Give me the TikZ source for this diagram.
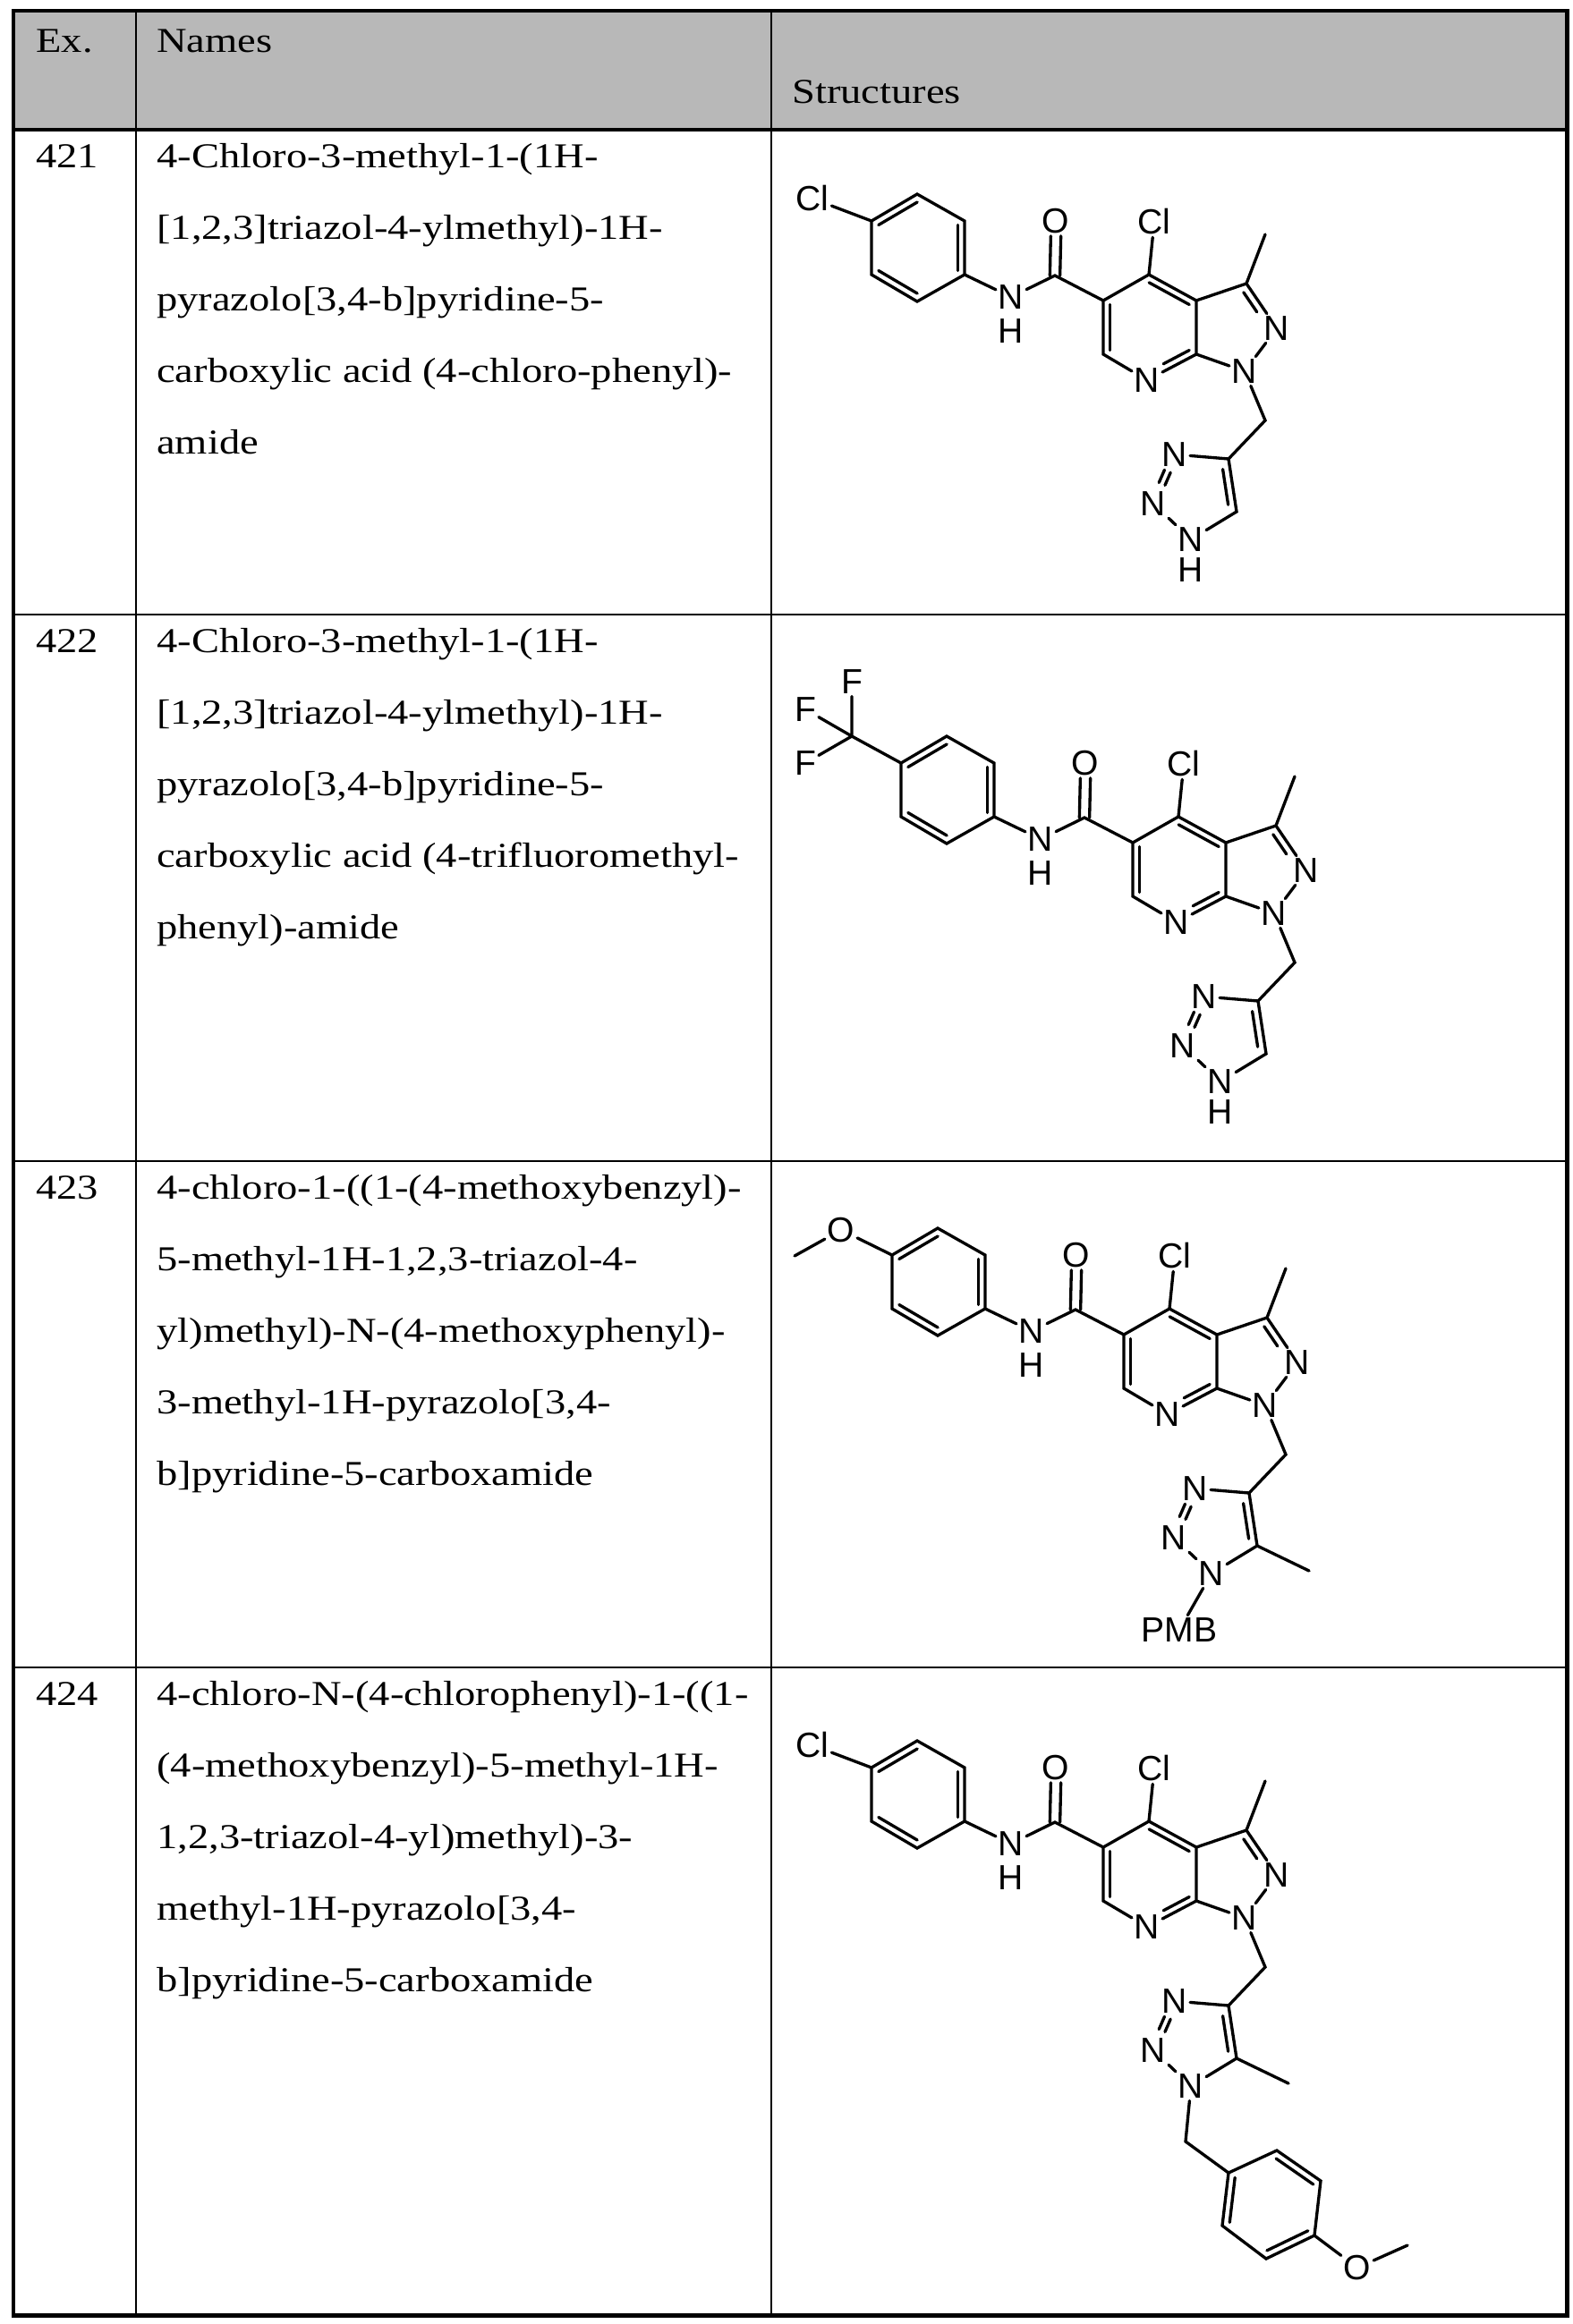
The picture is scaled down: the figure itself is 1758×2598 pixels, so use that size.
\documentclass[tikz,border=0pt]{standalone}
\usepackage{fontspec}
\setmainfont{Liberation Serif}
\newfontfamily\chemfont{Liberation Sans}
\usetikzlibrary{calc}
\newcommand\sx[1]{\scalebox{1.19}[1]{#1}}
\tikzset{
  bond/.style={line width=2pt,line cap=round},
  atom/.style={inner sep=1.6pt,font=\chemfont\fontsize{23.5}{26}\selectfont},
  txt/.style={anchor=base west,inner sep=0pt,font=\fontsize{23.5}{28}\selectfont},
  rule/.style={line width=1.5pt},
}
\newcommand\inr[6]{\draw[bond] ($($(#1)!#4!(#2)$)!#6!(#3)$) -- ($($(#1)!#5!(#2)$)!#6!(#3)$);}
\newcommand\dbl[5]{\draw[bond] ($($(#1)!#4!(#2)$)!#3!90:(#2)$) -- ($($(#1)!#5!(#2)$)!#3!90:(#2)$);
  \draw[bond] ($($(#1)!#4!(#2)$)!#3!-90:(#2)$) -- ($($(#1)!#5!(#2)$)!#3!-90:(#2)$);}
\newcommand\core{%
  \coordinate (A1) at (974,247); \coordinate (A2) at (1025,217); \coordinate (A3) at (1078,247);
  \coordinate (A4) at (1078,307); \coordinate (A5) at (1025,337); \coordinate (A6) at (974,307);
  \coordinate (Ac) at (1026,277);
  \node[atom] (NA) at (1130,332) {N}; \node[atom] (HA) at (1130,370) {H};
  \coordinate (Cc) at (1179,308); \node[atom] (OC) at (1180,247) {O};
  \coordinate (C5) at (1233,336); \coordinate (C4) at (1284,307); \node[atom] (ClC) at (1290,248) {Cl};
  \coordinate (C3a) at (1337,336); \coordinate (C7a) at (1337,396); \node[atom] (N7) at (1282,425) {N};
  \coordinate (C6) at (1233,396); \coordinate (Pc) at (1285,366);
  \coordinate (C3) at (1393,317); \coordinate (Me) at (1414,262);
  \node[atom] (N2) at (1427,367) {N}; \node[atom] (N1) at (1391,415) {N}; \coordinate (Qc) at (1377,366);
  \coordinate (CH) at (1414,470); \coordinate (T4) at (1373,513);
  \node[atom] (T3) at (1313,508) {N}; \node[atom] (T2) at (1289,563) {N}; \node[atom] (T1) at (1331,603) {N};
  \coordinate (T5) at (1382,572); \coordinate (Tc) at (1338,552);
  \draw[bond] (A1)--(A2)--(A3)--(A4)--(A5)--(A6)--cycle;
  \inr{A1}{A2}{Ac}{0}{1}{0.15} \inr{A3}{A4}{Ac}{0}{1}{0.15} \inr{A5}{A6}{Ac}{0}{1}{0.15}
  \draw[bond] (A4)--(NA)--(Cc)--(C5);
  \draw[bond] ([xshift=-3.4pt]Cc)--([xshift=-3.4pt]OC.south);
  \draw[bond] ([xshift=3.4pt]Cc)--([xshift=3.4pt]OC.south);
  \draw[bond] (C4)--(ClC);
  \draw[bond] (C5)--(C4)--(C3a)--(C7a)--(N7)--(C6)--(C5);
  \inr{C4}{C3a}{Pc}{0}{1}{0.15} \inr{C5}{C6}{Pc}{0}{1}{0.15} \inr{C7a}{N7}{Pc}{0}{0.62}{0.15}
  \draw[bond] (C3a)--(C3)--(N2)--(N1)--(C7a);
  \draw[bond] (C3)--(Me);
  \inr{C3}{N2}{Qc}{0}{0.55}{0.2}
  \draw[bond] (N1)--(CH)--(T4)--(T3);
  \dbl{T3}{T2}{2.2pt}{0.34}{0.6}
  \draw[bond] (T2)--(T1)--(T5)--(T4);
  \inr{T4}{T5}{Tc}{0.08}{0.92}{0.2}
}
\begin{document}
\begin{tikzpicture}[x=0.6013pt,y=-0.6013pt]
\useasboundingbox (0,0) rectangle (1758,2598);
% table
\fill[black!28] (15,12) rectangle (1751,145);
\draw[rule] (152,12)--(152,2588) (862,12)--(862,2588);
\draw[rule] (15,687)--(1751,687) (15,1298)--(1751,1298) (15,1864)--(1751,1864);
\draw[line width=2.6pt] (15,145)--(1751,145);
\draw[line width=3pt] (15,12) rectangle (1751,2588);
\node[txt] (hEx) at (40,58) {\sx{Ex.}};
\node[txt] (hNm) at (175,58) {\sx{Names}};
\node[txt] (hSt) at (885,115) {\sx{Structures}};
% row 421
\node[txt] (e1) at (40,187) {\sx{421}};
\node[txt] (a1) at (175,187) {\sx{4-Chloro-3-methyl-1-(1H-}};
\node[txt] (a2) at (175,267) {\sx{[1,2,3]triazol-4-ylmethyl)-1H-}};
\node[txt] (a3) at (175,347) {\sx{pyrazolo[3,4-b]pyridine-5-}};
\node[txt] (a4) at (175,427) {\sx{carboxylic acid (4-chloro-phenyl)-}};
\node[txt] (a5) at (175,507) {\sx{amide}};
% row 422
\node[txt] (e2) at (40,729) {\sx{422}};
\node[txt] (b1) at (175,729) {\sx{4-Chloro-3-methyl-1-(1H-}};
\node[txt] (b2) at (175,809) {\sx{[1,2,3]triazol-4-ylmethyl)-1H-}};
\node[txt] (b3) at (175,889) {\sx{pyrazolo[3,4-b]pyridine-5-}};
\node[txt] (b4) at (175,969) {\sx{carboxylic acid (4-trifluoromethyl-}};
\node[txt] (b5) at (175,1049) {\sx{phenyl)-amide}};
% row 423
\node[txt] (e3) at (40,1340) {\sx{423}};
\node[txt] (c1) at (175,1340) {\sx{4-chloro-1-((1-(4-methoxybenzyl)-}};
\node[txt] (c2) at (175,1420) {\sx{5-methyl-1H-1,2,3-triazol-4-}};
\node[txt] (c3) at (175,1500) {\sx{yl)methyl)-N-(4-methoxyphenyl)-}};
\node[txt] (c4) at (175,1580) {\sx{3-methyl-1H-pyrazolo[3,4-}};
\node[txt] (c5) at (175,1660) {\sx{b]pyridine-5-carboxamide}};
% row 424
\node[txt] (e4) at (40,1906) {\sx{424}};
\node[txt] (d1) at (175,1906) {\sx{4-chloro-N-(4-chlorophenyl)-1-((1-}};
\node[txt] (d2) at (175,1986) {\sx{(4-methoxybenzyl)-5-methyl-1H-}};
\node[txt] (d3) at (175,2066) {\sx{1,2,3-triazol-4-yl)methyl)-3-}};
\node[txt] (d4) at (175,2146) {\sx{methyl-1H-pyrazolo[3,4-}};
\node[txt] (d5) at (175,2226) {\sx{b]pyridine-5-carboxamide}};
% molecule 421
\begin{scope}
  \core
  \node[atom] (X1) at (908,222) {Cl}; \draw[bond] (A1)--(X1);
  \node[atom] (TH) at (1331,637) {H};
\end{scope}
% molecule 422
\begin{scope}[shift={(33,606)}]
  \core
  \coordinate (CF) at (919,217);
  \node[atom] (F1) at (919,156) {F}; \node[atom] (F2) at (867,187) {F}; \node[atom] (F3) at (867,247) {F};
  \draw[bond] (A1)--(CF) (CF)--(F1) (CF)--(F2) (CF)--(F3);
  \node[atom] (TH) at (1331,637) {H};
\end{scope}
% molecule 423
\begin{scope}[shift={(23,1156)}]
  \core
  \node[atom] (OM) at (917,219) {O}; \coordinate (OMe) at (865,248);
  \draw[bond] (A1)--(OM)--(OMe);
  \coordinate (TMe) at (1440,600); \draw[bond] (T5)--(TMe);
  \node[atom] (PMB) at (1295,666) {PMB}; \draw[bond] (T1)--(PMB);
\end{scope}
% molecule 424
\begin{scope}[shift={(0,1729)}]
  \core
  \node[atom] (X4) at (908,222) {Cl}; \draw[bond] (A1)--(X4);
  \coordinate (TMe) at (1440,600); \draw[bond] (T5)--(TMe);
  \coordinate (B0) at (1325,665);
  \coordinate (B1) at (1373,700); \coordinate (B2) at (1427,675); \coordinate (B3) at (1476,709);
  \coordinate (B4) at (1469,770); \coordinate (B5) at (1415,796); \coordinate (B6) at (1366,759);
  \coordinate (Bc) at (1421,735);
  \node[atom] (OB) at (1517,806) {O}; \coordinate (OBMe) at (1573,781);
  \draw[bond] (T1)--(B0)--(B1);
  \draw[bond] (B1)--(B2)--(B3)--(B4)--(B5)--(B6)--cycle;
  \inr{B1}{B6}{Bc}{0}{1}{0.15} \inr{B2}{B3}{Bc}{0}{1}{0.15} \inr{B4}{B5}{Bc}{0}{1}{0.15}
  \draw[bond] (B4)--(OB)--(OBMe);
\end{scope}
\end{tikzpicture}
\end{document}
